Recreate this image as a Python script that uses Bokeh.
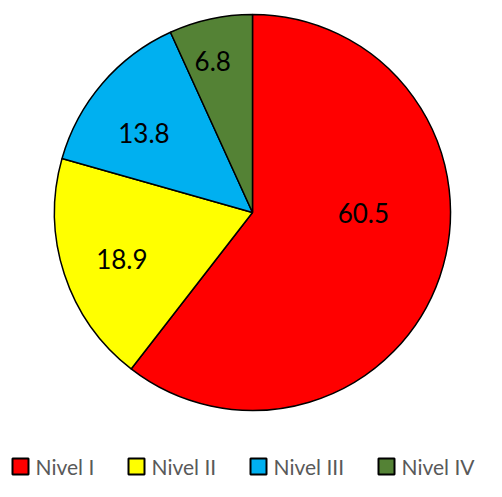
import math
from bokeh.plotting import figure
from bokeh.models import Range1d, ColumnDataSource
from bokeh.core.properties import value
from bokeh.embed import file_html
from bokeh.resources import INLINE

# data
categories = ["Nivel I", "Nivel II", "Nivel III", "Nivel IV"]
values = [60.5, 18.9, 13.8, 6.8]
labels = ["60.5", "18.9", "13.8", "6.8"]
colors = ["#FF0000", "#FFFF00", "#00B0F0", "#548235"]

# layout (screen px from top-left of figure; data y measured upward)
W, H = 486, 481
cx, cy = 252, H - 212
R = 198
label_frac = [0.56, 0.70, 0.68, 0.79]
label_dang = [18.9, 1.3, 4.4, 2.5]

total = sum(values)
starts, ends, lx, ly = [], [], [], []
cum = 0.0
for i, v in enumerate(values):
    a0 = math.pi / 2 - 2 * math.pi * cum / total
    cum += v
    a1 = math.pi / 2 - 2 * math.pi * cum / total
    starts.append(a1)
    ends.append(a0)
    mid = (a0 + a1) / 2 + math.radians(label_dang[i])
    lx.append(cx + R * label_frac[i] * math.cos(mid))
    ly.append(cy + R * label_frac[i] * math.sin(mid))

p = figure(width=W, height=H, output_backend="svg", toolbar_location=None,
           x_range=Range1d(0, W), y_range=Range1d(0, H),
           min_border=0)
p.axis.visible = False
p.grid.visible = False
p.outline_line_color = None
p.background_fill_color = "white"

src = ColumnDataSource(dict(start=starts, end=ends, color=colors, lx=lx, ly=ly, lab=labels))
p.wedge(x=cx, y=cy, radius=R, start_angle="start", end_angle="end",
        fill_color="color", line_color="black", line_width=1.5, source=src)
p.text(x="lx", y="ly", text="lab", source=src, text_align="center",
       text_baseline="middle", text_font=value("Lato"), text_font_size="26px",
       text_color="black")

# legend
leg_sq_x = [12, 128, 250, 378]
leg_y = H - 466
sq = 16
lsrc = ColumnDataSource(dict(x=[x + sq / 2 for x in leg_sq_x], tx=[x + 23 for x in leg_sq_x],
                             color=colors, name=categories))
p.rect(x="x", y=leg_y, width=sq, height=sq, fill_color="color", line_color="black",
       line_width=2, source=lsrc)
p.text(x="tx", y=leg_y, text="name", source=lsrc, text_align="left",
       text_baseline="middle", text_font=value("Lato"), text_font_size="21px",
       text_color="#595959")

open("out.html", "w").write(file_html(p, INLINE))
